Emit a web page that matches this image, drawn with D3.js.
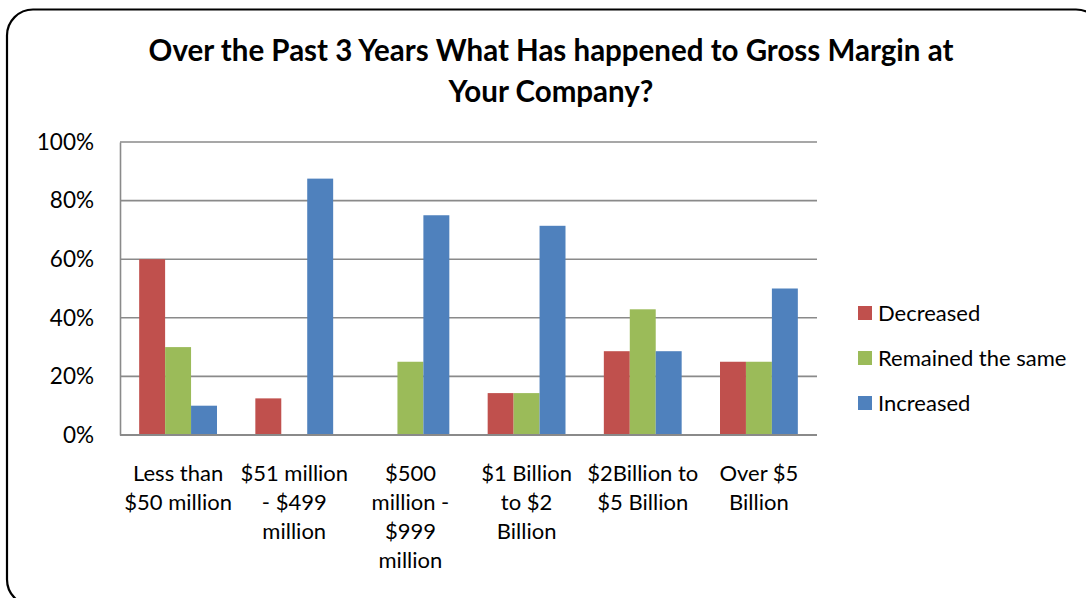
<!DOCTYPE html>
<html>
<head>
<meta charset="utf-8">
<script src="https://cdn.jsdelivr.net/npm/d3@7"></script>
<style>
  html, body { margin: 0; padding: 0; background: #fff; }
  svg { display: block; }
  text { font-family: Lato, "Noto Sans", sans-serif; fill: #000; }
</style>
</head>
<body>
<script>
// Survey results: share of respondents by company revenue band
const categories = [
  ["Less than", "$50 million"],
  ["$51 million", "- $499", "million"],
  ["$500", "million -", "$999", "million"],
  ["$1 Billion", "to $2", "Billion"],
  ["$2Billion to", "$5 Billion"],
  ["Over $5", "Billion"]
];
const seriesNames = ["Decreased", "Remained the same", "Increased"];
const seriesColors = ["#C0504D", "#9BBB59", "#4F81BD"];
const decreased = [0.60, 0.125, 0, 0.143, 0.286, 0.25];
const remainedSame = [0.30, 0, 0.25, 0.143, 0.429, 0.25];
const increased = [0.10, 0.875, 0.75, 0.714, 0.286, 0.50];
const yTicks = [0, 0.2, 0.4, 0.6, 0.8, 1.0];
const titleLines = ["Over the Past 3 Years What Has happened to Gross Margin at", "Your Company?"];

const W = 1086, H = 598;
const plot = { left: 120, right: 817, top: 142, bottom: 435 };
const FONT = "Lato, 'Noto Sans', sans-serif";

const svg = d3.select("body").append("svg").attr("width", W).attr("height", H);

// chart frame with rounded corners
svg.append("rect")
  .attr("x", 7).attr("y", 9.5)
  .attr("width", 1095).attr("height", 596)
  .attr("rx", 26).attr("ry", 26)
  .attr("fill", "#fff").attr("stroke", "#000").attr("stroke-width", 2.2);

// title
svg.append("g").selectAll("text").data(titleLines).join("text")
  .attr("x", 551).attr("y", (d, i) => 61 + i * 41)
  .attr("text-anchor", "middle")
  .attr("font-weight", "bold").attr("font-size", 29.5)
  .text(d => d);

const x0 = d3.scaleBand()
  .domain(d3.range(categories.length))
  .range([plot.left, plot.right])
  .paddingInner(0.33).paddingOuter(0.165);
const x1 = d3.scaleBand()
  .domain(d3.range(seriesNames.length))
  .range([0, x0.bandwidth()]);
const y = d3.scaleLinear().domain([0, 1]).range([plot.bottom, plot.top]);

// horizontal gridlines
svg.append("g").selectAll("line").data(yTicks).join("line")
  .attr("x1", plot.left).attr("x2", plot.right)
  .attr("y1", d => y(d)).attr("y2", d => y(d))
  .attr("stroke", "#8a8a8a").attr("stroke-width", 1.6);

// y axis
const yAxis = d3.axisLeft(y).tickValues(yTicks).tickFormat(d3.format(".0%")).tickSize(0).tickPadding(26);
const gy = svg.append("g").attr("transform", `translate(${plot.left},0)`).call(yAxis);
gy.select(".domain").attr("stroke", "#8a8a8a").attr("stroke-width", 1.6);
gy.selectAll("text").attr("font-size", 22.5).attr("font-family", FONT).attr("fill", "#000");

// bars
const values = [decreased, remainedSame, increased];
const groups = svg.append("g").selectAll("g").data(categories.map((c, i) => i)).join("g")
  .attr("transform", i => `translate(${x0(i)},0)`);
groups.selectAll("rect").data(i => values.map((s, k) => ({ k, v: s[i] }))).join("rect")
  .attr("x", d => x1(d.k))
  .attr("width", x1.bandwidth())
  .attr("y", d => y(d.v))
  .attr("height", d => y(0) - y(d.v))
  .attr("fill", d => seriesColors[d.k]);

// bottom axis line on top of bars
svg.append("line")
  .attr("x1", plot.left).attr("x2", plot.right)
  .attr("y1", y(0)).attr("y2", y(0))
  .attr("stroke", "#8a8a8a").attr("stroke-width", 1.8);

// category labels
const xAxis = d3.axisBottom(x0).tickSize(0).tickFormat("");
const gx = svg.append("g").attr("transform", `translate(0,${plot.bottom})`).call(xAxis);
gx.select(".domain").remove();
gx.selectAll(".tick").each(function (i) {
  const t = d3.select(this).append("text")
    .attr("text-anchor", "middle").attr("font-size", 22)
    .attr("fill", "#000").attr("font-family", FONT);
  t.selectAll("tspan").data(categories[i]).join("tspan")
    .attr("x", 0).attr("y", (d, j) => 46 + j * 29)
    .text(d => d);
});

// legend
const legend = svg.append("g").selectAll("g").data(seriesNames).join("g")
  .attr("transform", (d, i) => `translate(858,${313 + i * 45})`);
legend.append("rect").attr("x", 0).attr("y", -7).attr("width", 14).attr("height", 14)
  .attr("fill", (d, i) => seriesColors[i]);
legend.append("text").attr("x", 20).attr("y", 8).attr("font-size", 22).text(d => d);
</script>
</body>
</html>
